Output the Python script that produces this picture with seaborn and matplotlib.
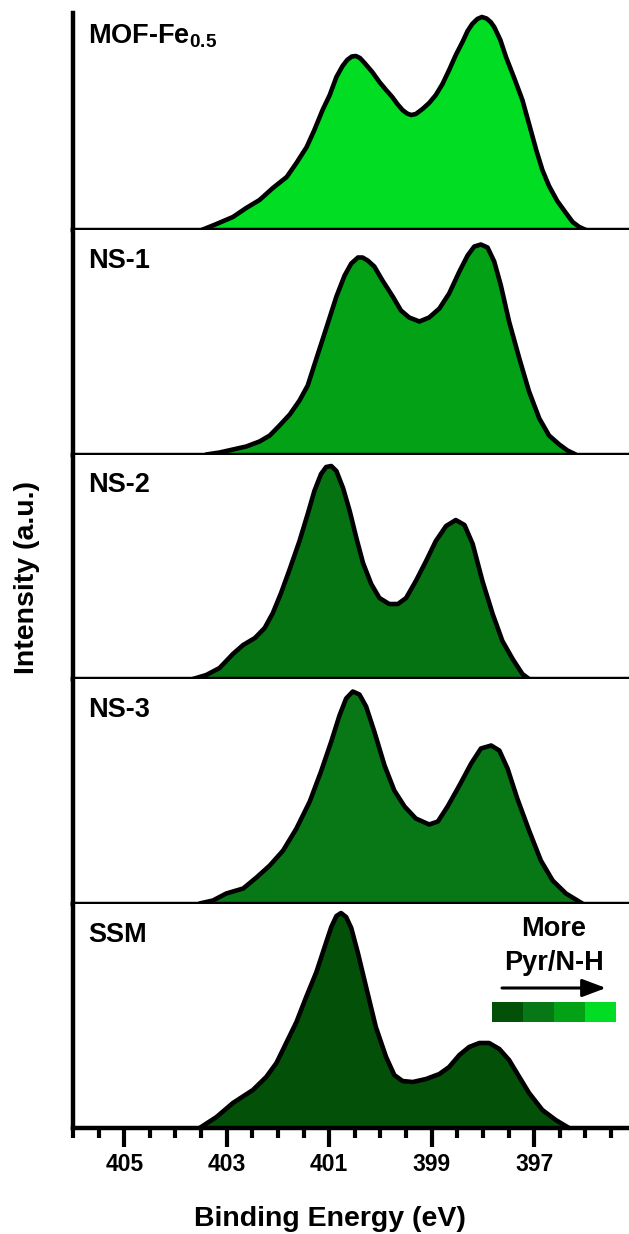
import matplotlib
matplotlib.use("Agg")
import matplotlib.pyplot as plt
from matplotlib.ticker import MultipleLocator
from matplotlib.colors import ListedColormap
import numpy as np
import pandas as pd
import seaborn as sns

# ---------------- data ----------------
samples = ["MOF-Fe$_{0.5}$", "NS-1", "NS-2", "NS-3", "SSM"]
fill_colors = ["#00DD22", "#03A116", "#067312", "#077815", "#035009"]
legend_colors = ["#035009", "#077815", "#03A116", "#00DD22"]

energy_mof = [403.49, 403.20, 402.88, 402.62, 402.36, 402.10, 401.83, 401.64, 401.44,
              401.29, 401.13, 400.99, 400.86, 400.74, 400.65, 400.56, 400.48, 400.40,
              400.31, 400.16, 400.02, 399.89, 399.77, 399.67, 399.57, 399.48, 399.40,
              399.31, 399.18, 399.05, 398.92, 398.79, 398.66, 398.53, 398.40, 398.30,
              398.21, 398.11, 398.02, 397.93, 397.85, 397.78, 397.66, 397.55, 397.39,
              397.23, 397.10, 396.96, 396.84, 396.71, 396.55, 396.38, 396.25, 396.12,
              395.99]
intensity_mof = [0, 6, 13, 22, 30, 42, 53, 67, 83,
                 100, 120, 135, 153, 164, 170, 173.5, 174, 172,
                 167, 158, 148, 140, 133, 126, 120, 116.5, 115,
                 116, 121, 127, 135, 146, 160, 175, 188, 199,
                 206, 211, 213, 211.5, 208, 203, 190, 173, 152,
                 130, 106, 80, 60, 44, 29, 17, 8, 3,
                 0]

energy_ns1 = [403.40, 403.14, 402.88, 402.62, 402.36, 402.16, 401.97, 401.77, 401.58,
              401.42, 401.25, 401.06, 400.86, 400.70, 400.57, 400.44, 400.35, 400.25,
              400.12, 399.96, 399.76, 399.60, 399.44, 399.24, 399.05, 398.85, 398.66,
              398.46, 398.30, 398.17, 398.04, 397.91, 397.78, 397.65, 397.49, 397.29,
              397.10, 396.90, 396.71, 396.51, 396.35, 396.19]
intensity_ns1 = [0, 2, 5, 8, 13, 19, 29, 40, 54,
                 69, 96, 126, 158, 179, 191, 197, 197, 194,
                 188, 174, 158, 144, 137, 133, 137, 146, 161,
                 183, 199, 208, 210, 207, 193, 169, 133, 96,
                 63, 36, 19, 10, 4, 0]

energy_ns2 = [403.66, 403.40, 403.14, 402.88, 402.68, 402.45, 402.26, 402.10, 401.94,
              401.77, 401.58, 401.42, 401.29, 401.16, 401.06, 400.96, 400.86, 400.73,
              400.60, 400.47, 400.34, 400.18, 400.02, 399.83, 399.66, 399.50, 399.31,
              399.11, 398.92, 398.72, 398.53, 398.36, 398.20, 398.01, 397.81, 397.62,
              397.42, 397.23, 397.10]
intensity_ns2 = [0, 4, 11, 25, 34, 41, 51, 66, 86,
                 110, 138, 165, 188, 205, 212, 213, 208, 191,
                 168, 141, 116, 95, 81, 75, 75, 81, 98,
                 118, 138, 153, 159, 154, 135, 98, 65, 38,
                 20, 5, 0]

energy_ns3 = [403.53, 403.27, 403.01, 402.68, 402.42, 402.16, 401.90, 401.64, 401.38,
              401.16, 400.96, 400.80, 400.67, 400.54, 400.41, 400.28, 400.12, 399.92,
              399.73, 399.53, 399.31, 399.05, 398.88, 398.69, 398.46, 398.23, 398.04,
              397.84, 397.68, 397.52, 397.33, 397.10, 396.87, 396.64, 396.38, 396.06]
intensity_ns3 = [0, 3, 10, 15, 26, 38, 53, 75, 102,
                 132, 162, 188, 205, 212, 209, 197, 172, 138,
                 113, 97, 85, 79, 82, 97, 118, 140, 155,
                 158, 153, 135, 105, 73, 43, 23, 10, 0]

energy_ssm = [403.53, 403.20, 402.88, 402.49, 402.23, 402.03, 401.84, 401.64, 401.45,
              401.25, 401.09, 400.96, 400.86, 400.77, 400.67, 400.57, 400.44, 400.28,
              400.09, 399.89, 399.73, 399.57, 399.37, 399.11, 398.85, 398.66, 398.46,
              398.27, 398.07, 397.88, 397.68, 397.49, 397.29, 397.10, 396.84, 396.58,
              396.32]
intensity_ssm = [0, 11, 25, 38, 51, 65, 85, 106, 131,
                 156, 181, 201, 212, 215, 211, 200, 175, 141,
                 101, 71, 53, 47, 46, 49, 54, 61, 73,
                 81, 85, 85, 79, 68, 51, 35, 18, 8,
                 0]

energies = [energy_mof, energy_ns1, energy_ns2, energy_ns3, energy_ssm]
intensities = [intensity_mof, intensity_ns1, intensity_ns2, intensity_ns3, intensity_ssm]

major_ticks = [405, 403, 401, 399, 397]

# ---------------- style ----------------
sns.set_style("white")
plt.rcParams.update({
    "font.family": ["Liberation Sans", "DejaVu Sans"],
    "font.weight": "bold",
    "text.color": "black",
    "axes.labelcolor": "black",
    "xtick.color": "black",
    "ytick.color": "black",
    "mathtext.fontset": "custom",
    "mathtext.rm": "Liberation Sans:bold",
    "mathtext.it": "Liberation Sans:bold",
    "mathtext.bf": "Liberation Sans:bold",
    "mathtext.sf": "Liberation Sans:bold",
})

W, Hpx = 629, 1234
fig = plt.figure(figsize=(W / 100, Hpx / 100), dpi=100)

left = 73 / W
bottom = 1 - 1128 / Hpx
top = 1 - 5.5 / Hpx
ph = (top - bottom) / 5
panel_px = 224.5

axes = []
for i in range(5):
    ax = fig.add_axes([left, bottom + (4 - i) * ph, 1 - left, ph])
    axes.append(ax)
    df = pd.DataFrame({"E": energies[i], "I": intensities[i]})
    ax.fill_between(df["E"], df["I"], 0, color=fill_colors[i], lw=0, zorder=1)
    sns.lineplot(data=df, x="E", y="I", ax=ax, color="black", lw=3.3,
                 sort=False, estimator=None, zorder=3, clip_on=False,
                 solid_joinstyle="round", solid_capstyle="round")
    ax.set_xlim(406, 395.15)
    ax.set_ylim(0, panel_px)
    for s in ["top", "right"]:
        ax.spines[s].set_visible(False)
    for s in ["left", "bottom"]:
        ax.spines[s].set_linewidth(3.2)
        ax.spines[s].set_color("black")
        ax.spines[s].set_zorder(4)
    ax.set_yticks([])
    ax.set_ylabel("")
    ax.set_xlabel("")
    ax.text(0.027, 1 - 38 / panel_px, samples[i], transform=ax.transAxes,
            fontsize=19.5, fontweight="bold", ha="left", va="baseline", color="black")
    if i < 4:
        ax.set_xticks([])
        ax.tick_params(axis="x", which="both", bottom=False, labelbottom=False)

axes[0].spines["left"].set_bounds(0, 217)

axb = axes[4]
axb.set_xticks(major_ticks)
axb.set_xticklabels([str(t) for t in major_ticks])
axb.xaxis.set_minor_locator(MultipleLocator(0.5))
axb.tick_params(axis="x", which="major", direction="out", length=14, width=3.0,
                color="black", labelcolor="black", labelsize=16.5, pad=4, bottom=True)
axb.tick_params(axis="x", which="minor", direction="out", length=7, width=3.0,
                color="black", bottom=True)
axb.set_xlabel("Binding Energy (eV)", fontsize=20.5, fontweight="bold", color="black")
axb.xaxis.set_label_coords((330 - 73) / 556, -(1226 - 1128) / panel_px)
axb.xaxis.label.set_va("baseline")

fig.text(27 / W, 1 - 577 / Hpx, "Intensity (a.u.)", rotation=90, ha="center",
         va="center", fontsize=20.5, fontweight="bold", color="black")

# legend: text, arrow, colour bar
fig.text(554 / W, 1 - 936 / Hpx, "More", ha="center", va="baseline",
         fontsize=19.5, fontweight="bold", color="black")
fig.text(554 / W, 1 - 970 / Hpx, "Pyr/N-H", ha="center", va="baseline",
         fontsize=19.5, fontweight="bold", color="black")
axb.annotate("", xy=(606 / W, 1 - 988 / Hpx), xytext=(502 / W, 1 - 988 / Hpx),
             xycoords="figure fraction", textcoords="figure fraction",
             arrowprops=dict(arrowstyle="-|>,head_length=0.72,head_width=0.27",
                             lw=2.2, color="black", mutation_scale=20,
                             shrinkA=0, shrinkB=0))

cax = fig.add_axes([492 / W, 1 - 1022 / Hpx, 124 / W, 20 / Hpx])
sns.heatmap(np.array([[0, 1, 2, 3]]), cmap=ListedColormap(legend_colors),
            vmin=-0.5, vmax=3.5, cbar=False, ax=cax,
            xticklabels=False, yticklabels=False)
cax.set_axis_off()

fig.savefig("out.png", dpi=100)
